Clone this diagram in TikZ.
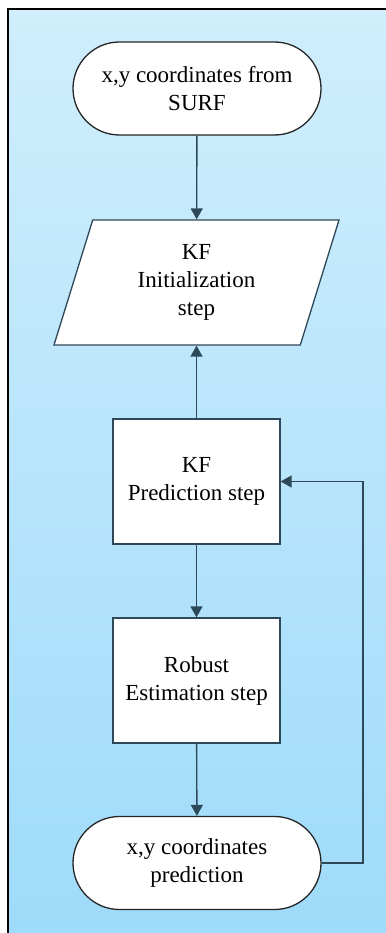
\documentclass[tikz,border=0pt]{standalone}
\usepackage{fontspec}
\setmainfont{Liberation Serif}
\usetikzlibrary{shapes.misc,shapes.geometric,arrows.meta}
\definecolor{lineclr}{RGB}{45,72,88}
\definecolor{bgtop}{RGB}{208,238,252}
\definecolor{bgbot}{RGB}{158,219,250}
\begin{document}
\begin{tikzpicture}[
            x=1pt, y=-1pt,
            font=\fontsize{23}{28}\selectfont,
            terminal/.style={rounded rectangle, draw=black!85, line width=1.3pt, fill=white,
                minimum width=248pt, minimum height=93pt, inner sep=0pt, align=center},
            iobox/.style={trapezium, trapezium left angle=63, trapezium right angle=117,
                trapezium stretches body, draw=lineclr, line width=1.3pt, fill=white,
                minimum width=285pt, minimum height=125pt, inner sep=0pt, align=center},
            stepbox/.style={rectangle, draw=lineclr, line width=1.3pt, fill=white,
                minimum width=167pt, minimum height=125pt, inner sep=0pt, align=center},
            arrow/.style={-{Triangle[width=12pt, length=11pt]}, draw=lineclr, line width=1.4pt}
        ]
            \useasboundingbox (0,0) rectangle (385,933);
            \draw[line width=2.5pt, top color=bgtop, middle color=bgbot, bottom color=bgbot] (8,9) rectangle (395,945);
        
            \node[terminal] (start) at (197,88.5) {x,y coordinates from\\SURF};
            \node[iobox] (init) at (196.5,282.5) {KF\\Initialization\\step};
            \node[stepbox] (pred) at (196.5,481.5) {KF\\Prediction step};
            \node[stepbox] (robust) at (196.5,680.5) {Robust\\Estimation step};
            \node[terminal] (stop) at (197,863) {x,y coordinates\\prediction};
            \coordinate (back) at (363,863);
        
            \draw[arrow] (start) -- (init);
            \draw[arrow] (pred) -- (init);
            \draw[arrow] (pred) -- (robust);
            \draw[arrow] (robust) -- (stop);
            \draw[arrow] (stop.east) -- (back) |- (pred.east);
            
        \end{tikzpicture}
\end{document}
